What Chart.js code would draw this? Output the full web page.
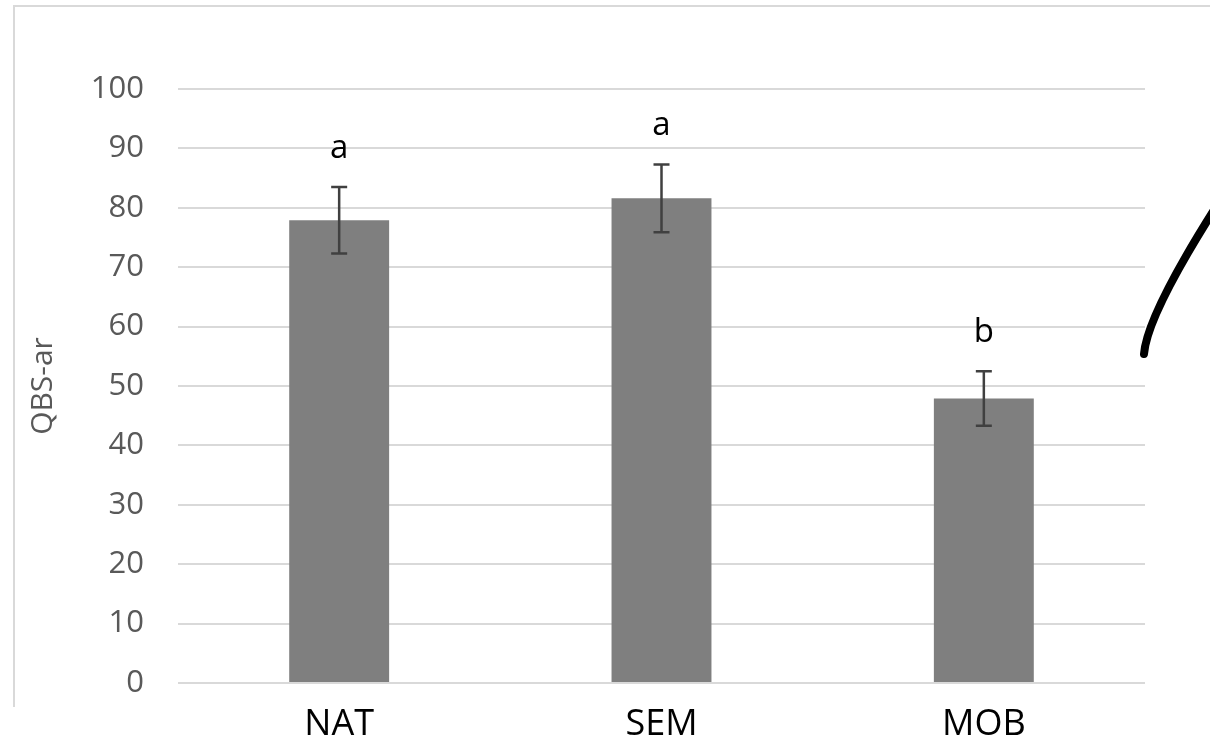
<!DOCTYPE html>
<html>
<head>
<meta charset="utf-8">
<script src="https://cdn.jsdelivr.net/npm/chart.js@4"></script>
<style>
    html, body { margin: 0; padding: 0; background: #ffffff; }
    #wrap { position: relative; width: 1210px; height: 742px; overflow: hidden; }
    #frame {
        position: absolute; left: 13px; top: 5px; width: 1220px; height: 700px;
        border-top: 2px solid #d9d9d9; border-left: 2px solid #d9d9d9;
    }
    #chart { position: absolute; left: 0; top: 0; }
    #mark { position: absolute; left: 0; top: 0; }
</style>
</head>
<body>
<div id="wrap">
    <div id="frame"></div>
    <canvas id="chart" width="1210" height="742"></canvas>
    <svg id="mark" width="1210" height="742">
        <path d="M1144,354 Q1147,316 1214,210" fill="none" stroke="#000" stroke-width="8" stroke-linecap="round"/>
    </svg>
</div>
<script>
// values
const categories = ['NAT', 'SEM', 'MOB'];
const means = [77.9, 81.6, 47.9];
const errors = [5.6, 5.7, 4.6];
const letters = ['a', 'a', 'b'];
const yTicks = [0, 10, 20, 30, 40, 50, 60, 70, 80, 90, 100];

const FONT = '"Open Sans", "Noto Sans", sans-serif';

const errorBarPlugin = {
    id: 'errorBars',
    afterDatasetsDraw(chart) {
        const { ctx, scales: { x, y } } = chart;
        ctx.save();
        ctx.strokeStyle = '#404040';
        ctx.lineWidth = 2.5;
        means.forEach((m, i) => {
            const px = x.getPixelForValue(i);
            const top = y.getPixelForValue(m + errors[i]);
            const bottom = y.getPixelForValue(m - errors[i]);
            ctx.beginPath();
            ctx.moveTo(px, top);
            ctx.lineTo(px, bottom);
            ctx.moveTo(px - 8, top);
            ctx.lineTo(px + 8, top);
            ctx.moveTo(px - 8, bottom);
            ctx.lineTo(px + 8, bottom);
            ctx.stroke();

            // significance letters
            ctx.fillStyle = '#000000';
            ctx.font = '33px ' + FONT;
            ctx.textAlign = 'center';
            ctx.textBaseline = 'alphabetic';
            ctx.fillText(letters[i], px, top - 29);
        });
        ctx.restore();
    }
};

new Chart(document.getElementById('chart'), {
    type: 'bar',
    data: {
        labels: categories,
        datasets: [{
            data: means,
            backgroundColor: '#7f7f7f',
            borderWidth: 0,
            barPercentage: 0.31,
            categoryPercentage: 1
        }]
    },
    options: {
        responsive: false,
        animation: false,
        layout: { padding: { left: 0, right: 65, top: 89, bottom: 0 } },
        plugins: {
            legend: { display: false },
            tooltip: { enabled: false }
        },
        scales: {
            x: {
                grid: { display: false, drawTicks: false },
                border: { display: false },
                ticks: {
                    color: '#000000',
                    padding: 20,
                    font: { family: FONT, size: 36 }
                },
                afterFit(scale) { scale.height = 59; }
            },
            y: {
                min: 0,
                max: 100,
                afterBuildTicks(scale) { scale.ticks = yTicks.map(v => ({ value: v })); },
                grid: { color: '#d9d9d9', lineWidth: 2, drawTicks: false },
                border: { display: false },
                ticks: {
                    color: '#595959',
                    padding: 34,
                    font: { family: FONT, size: 31 }
                },
                title: {
                    display: true,
                    text: 'QBS-ar',
                    color: '#595959',
                    padding: { top: 25, bottom: 0 },
                    font: { family: FONT, size: 30 }
                },
                afterFit(scale) { scale.width = 178; }
            }
        }
    },
    plugins: [errorBarPlugin]
});
</script>
</body>
</html>
